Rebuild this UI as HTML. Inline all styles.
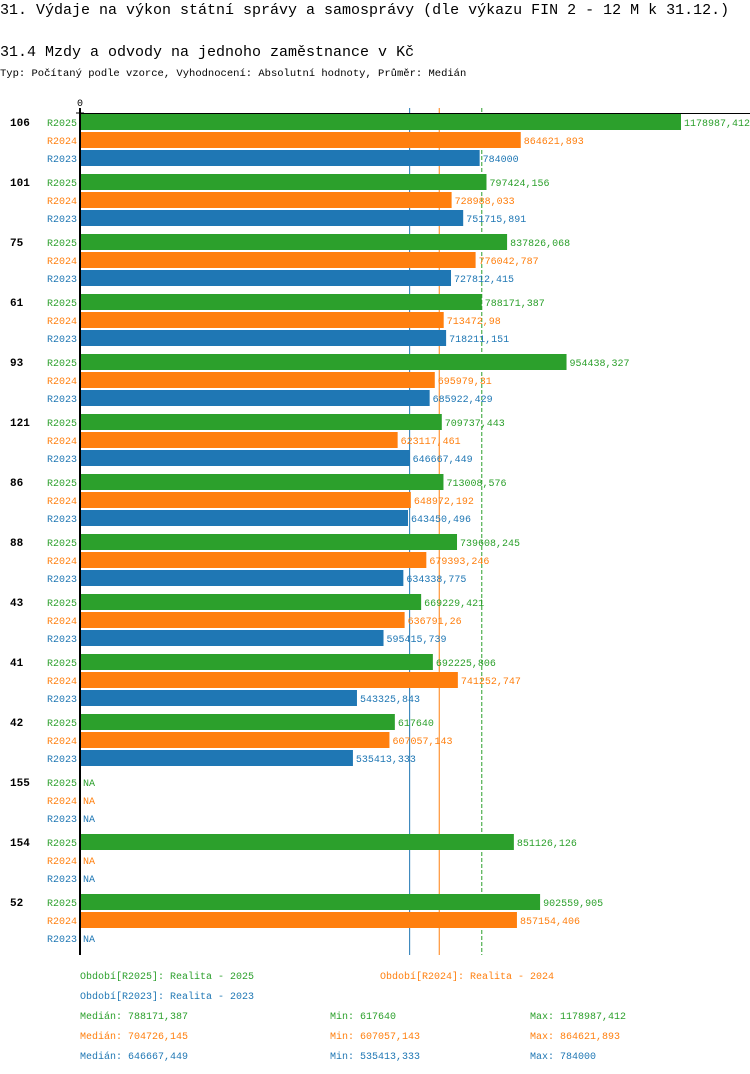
<!DOCTYPE html>
<html><head><meta charset="utf-8"><style>
body{margin:0;background:#fff;width:750px;height:1074px;overflow:hidden;font-family:"Liberation Mono",monospace}
svg{display:block}
text{font-family:"Liberation Mono",monospace}
</style></head><body>
<svg id="c" width="750" height="1074">
<text x="0" y="14" font-size="15">31. Výdaje na výkon státní správy a samosprávy (dle výkazu FIN 2 - 12 M k 31.12.)</text>
<text x="0" y="56" font-size="15">31.4 Mzdy a odvody na jednoho zaměstnance v Kč</text>
<text x="0" y="76" font-size="10.5">Typ: Počítaný podle vzorce, Vyhodnocení: Absolutní hodnoty, Průměr: Medián</text>
<g id="g"></g>
</svg>
<script>
const categories=["106","101","75","61","93","121","86","88","43","41","42","155","154","52"];
const seriesNames=["R2025","R2024","R2023"];
const r2025=[1178987.412,797424.156,837826.068,788171.387,954438.327,709737.443,713008.576,739608.245,669229.421,692225.806,617640,null,851126.126,902559.905];
const r2024=[864621.893,728988.033,776042.787,713472.98,695979.31,623117.461,648972.192,679393.246,636791.26,741252.747,607057.143,null,null,857154.406];
const r2023=[784000,751715.891,727812.415,718211.151,685922.429,646667.449,643450.496,634338.775,595415.739,543325.843,535413.333,null,null,null];
const labels2025=["1178987,412","797424,156","837826,068","788171,387","954438,327","709737,443","713008,576","739608,245","669229,421","692225,806","617640","NA","851126,126","902559,905"];
const labels2024=["864621,893","728988,033","776042,787","713472,98","695979,31","623117,461","648972,192","679393,246","636791,26","741252,747","607057,143","NA","NA","857154,406"];
const labels2023=["784000","751715,891","727812,415","718211,151","685922,429","646667,449","643450,496","634338,775","595415,739","543325,843","535413,333","NA","NA","NA"];
const medians=[788171.387,704726.145,646667.449];
const colors=["#2ca02c","#ff7f0e","#1f77b4"];
const NS="http://www.w3.org/2000/svg";
const gEl=document.getElementById('g');
const x0=80,xMax=1178987.412,xEnd=681;
const xs=v=>x0+v/xMax*(xEnd-x0);
const ys=(i,s)=>114+i*60+s*18;
function mk(t,a,txt){const e=document.createElementNS(NS,t);for(const k in a)e.setAttribute(k,a[k]);if(txt!=null)e.textContent=txt;gEl.appendChild(e);return e;}
const vals=[r2025,r2024,r2023],labs=[labels2025,labels2024,labels2023];
medians.forEach((m,s)=>{
  const ml=mk('line',{x1:xs(m),x2:xs(m),y1:108,y2:955,stroke:colors[s],'stroke-width':1,'stroke-dasharray':s===0?'4,2':'none'});
  
  
});
categories.forEach((c,i)=>{
  const t=mk('text',{x:10,y:ys(i,0)+12,'font-size':11,'font-weight':'bold'},c);
  
  
  for(let s=0;s<3;s++){
    const y=ys(i,s);
    const l=mk('text',{x:47,y:y+12,'font-size':10,fill:colors[s]},seriesNames[s]);
    
    
    const v=vals[s][i];
    let end=x0+2;
    if(v!=null){
      const r=mk('rect',{x:x0,y:y,width:xs(v)-x0,height:16,fill:colors[s]});
      
      
      end=xs(v)+2;
    }
    const vl=mk('text',{x:end+1,y:y+12,'font-size':10,fill:colors[s]},labs[s][i]);
    
    
  }
});
const ax=mk('line',{x1:80,x2:80,y1:108,y2:955,stroke:'#000','stroke-width':2});


const tk=mk('line',{x1:76,x2:84,y1:113,y2:113,stroke:'#000','stroke-width':1});


const xAxisLine=mk('line',{x1:80,x2:750,y1:113.5,y2:113.5,stroke:'#000','stroke-width':1});


const z=mk('text',{x:77,y:106,'font-size':10},'0');


const legend=[["Období[R2025]: Realita - 2025",80,979,0],["Období[R2024]: Realita - 2024",380,979,1],["Období[R2023]: Realita - 2023",80,999,2]];
legend.forEach(d=>{const e=mk('text',{x:d[1],y:d[2],'font-size':10,fill:colors[d[3]]},d[0]);

});
const mins=["617640","607057,143","535413,333"],maxs=["1178987,412","864621,893","784000"],meds=["788171,387","704726,145","646667,449"];
for(let s=0;s<3;s++){const y=1019+s*20;
 const a=mk('text',{x:80,y:y,'font-size':10,fill:colors[s]},'Medián: '+meds[s]);
 
 
 const b=mk('text',{x:330,y:y,'font-size':10,fill:colors[s]},'Min: '+mins[s]);
 
 
 const c=mk('text',{x:530,y:y,'font-size':10,fill:colors[s]},'Max: '+maxs[s]);
 
 }
</script>
</body></html>
